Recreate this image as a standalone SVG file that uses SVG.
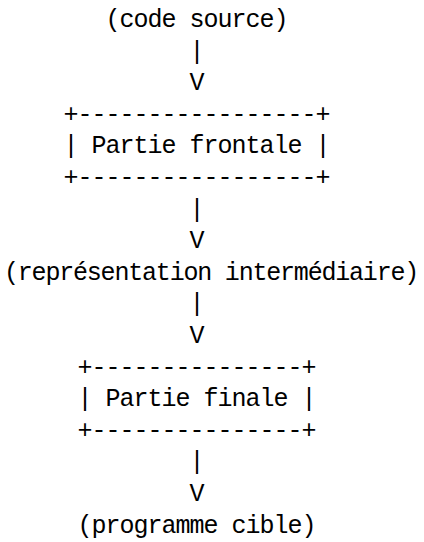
<svg xmlns="http://www.w3.org/2000/svg" width="424" height="542" viewBox="0 0 424 542">
<style>
text{font-family:"Liberation Mono","Courier New",monospace;font-size:25px;letter-spacing:-1px;fill:#000;white-space:pre}
.wide{letter-spacing:-1.2px}
</style>
<rect width="424" height="542" fill="#fff"/>
<g id="code-source"><text x="105.5" y="27">(code source)</text></g>
<g id="partie-frontale">
<text x="63.5" y="121.8">+-----------------+</text>
<text x="63.5" y="153.4">| Partie frontale |</text>
<text x="63.5" y="185">+-----------------+</text>
</g>
<g id="representation-intermediaire"><text class="wide" x="4" y="279.8">(représentation intermédiaire)</text></g>
<g id="partie-finale">
<text x="77.5" y="374.6">+---------------+</text>
<text x="77.5" y="406.2">| Partie finale |</text>
<text x="77.5" y="437.8">+---------------+</text>
</g>
<g id="programme-cible"><text x="77.5" y="532.6">(programme cible)</text></g>
<g id="connectors">
<text x="189.5" y="58.6">|</text>
<text x="189.5" y="90.2">V</text>
<text x="189.5" y="216.6">|</text>
<text x="189.5" y="248.2">V</text>
<text x="189.5" y="311.4">|</text>
<text x="189.5" y="343">V</text>
<text x="189.5" y="469.4">|</text>
<text x="189.5" y="501">V</text>
</g>
</svg>
